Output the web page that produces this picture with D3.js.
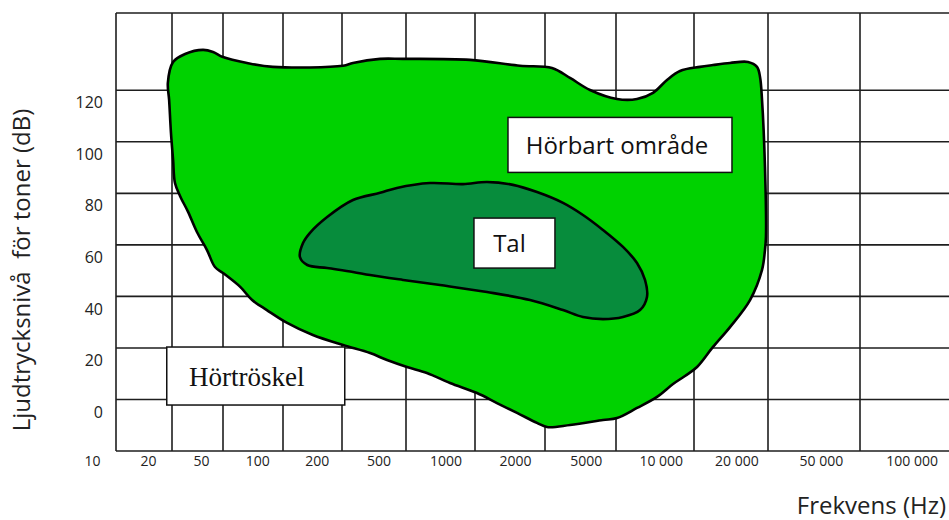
<!DOCTYPE html>
<html>
<head>
<meta charset="utf-8">
<script src="https://cdn.jsdelivr.net/npm/d3@7"></script>
<style>
  body { margin: 0; background: #fff; }
  text { font-family: "Open Sans", sans-serif; fill: #222; }
</style>
</head>
<body>
<div id="chart"></div>
<script>
// axis values
var freqs = [10, 20, 50, 100, 200, 500, 1000, 2000, 5000, 10000, 20000, 50000, 100000];
var freqLabels = ["10", "20", "50", "100", "200", "500", "1000", "2000", "5000", "10 000", "20 000", "50 000", "100 000"];
var levels = [0, 20, 40, 60, 80, 100, 120];
var levelRange = [-20, 150];

// outline of the audible area, [Hz, dB]
var audible = [
  [19.0, 122.9], [20.4, 131.0], [25.3, 134.1], [34.9, 135.7], [41.8, 134.9], [50, 132.9],
  [66, 130.6], [89, 129.1], [203, 129.5], [234, 130.6], [345, 132.2], [479, 132.2],
  [951, 131.8], [1561, 129.5], [2189, 128.7], [2762, 124.8], [3575, 120.1], [5045, 116.6],
  [6026, 116.6], [6946, 119.0], [7867, 124.0], [8830, 127.5], [10580, 129.1], [11950, 129.8],
  [14010, 130.6], [16580, 131.0], [18040, 129.1], [18560, 125.2], [18910, 116.3], [19440, 90.2],
  [19620, 63.1], [19440, 58.0], [18910, 50.3], [16900, 38.6], [14010, 28.1], [11950, 20.4],
  [10290, 12.6], [9230, 9.1], [8300, 6.0], [7200, 1.0], [6026, -3.3], [5045, -7.2],
  [4226, -8.0], [2762, -9.9], [2052, -10.7], [1848, -9.1], [1516, -5.2], [1243, -1.4],
  [1020, 2.5], [778, 6.4], [617, 10.3], [505, 12.6], [381, 15.3], [299, 18.0],
  [203, 21.1], [142, 25.0], [105, 29.7], [83, 34.7], [70, 38.6], [61, 43.7],
  [50, 49.1], [43.3, 51.4], [37.5, 58.0], [31.3, 65.0], [26.7, 72.8], [23.1, 79.0],
  [21.1, 84.0], [20.4, 93.0], [19.75, 103.4], [19.3, 116.3]
];

// outline of the speech area, [Hz, dB]
var speech = [
  [126.5, 60.7], [137, 64.6], [168, 70.8], [234, 77.4], [345, 80.2], [439, 82.1],
  [636, 84.0], [886, 83.6], [1126, 84.4], [1457, 83.3], [1848, 80.5], [2524, 76.3],
  [3266, 71.6], [4226, 65.8], [5320, 59.2], [6026, 53.0], [6470, 46.4], [6585, 39.8],
  [6190, 34.7], [5320, 32.0], [4226, 31.2], [3266, 32.0], [2524, 34.7], [1724, 38.6],
  [1126, 41.7], [704, 44.4], [479, 46.4], [299, 48.3], [234, 49.5], [168, 51.0],
  [133, 52.2], [122, 55.3]
];

// boxed captions: text, centre [Hz, dB]
var notes = [
  {text: "Hörbart område", hz: 5180, db: 98.8, w: 224, h: 55, dx: -3, serif: false},
  {text: "Tal", hz: 1478, db: 60.7, w: 81, h: 50, dx: -5, serif: false},
  {text: "Hörtröskel", hz: 73, db: 9.1, w: 178, h: 58, dx: -9, serif: true}
];

var width = 949, height = 520;
// hand drawn table: column edges are not evenly spaced
var colEdges = [116, 172, 223, 283, 342, 406, 475, 545, 616, 694, 768, 860, 950];

var xLog = d3.scaleLinear().domain(freqs.map(Math.log10)).range(colEdges);
var x = function(f) { return xLog(Math.log10(f)); };
var xIdx = d3.scaleLinear().domain(d3.range(freqs.length)).range(colEdges);
var y = d3.scaleLinear().domain(levelRange).range([451, 13]);

var svg = d3.select("#chart").append("svg")
  .attr("width", width)
  .attr("height", height);

// grid
var grid = svg.append("g").attr("stroke", "#1e1e1e").attr("stroke-width", 1.6);
grid.selectAll("line.v").data(freqs).enter().append("line")
  .attr("class", "v")
  .attr("x1", function(d) { return x(d); })
  .attr("x2", function(d) { return x(d); })
  .attr("y1", y(levelRange[0]))
  .attr("y2", y(levelRange[1]));
grid.selectAll("line.h").data([levelRange[0]].concat(levels, [levelRange[1]])).enter().append("line")
  .attr("class", "h")
  .attr("x1", x(freqs[0]))
  .attr("x2", width)
  .attr("y1", function(d) { return y(d); })
  .attr("y2", function(d) { return y(d); });

// areas
var line = d3.line()
  .x(function(d) { return x(d[0]); })
  .y(function(d) { return y(d[1]); })
  .curve(d3.curveCatmullRomClosed.alpha(0.5));

svg.append("path")
  .datum(audible)
  .attr("d", line)
  .attr("fill", "#00d200")
  .attr("stroke", "#000")
  .attr("stroke-width", 2.6)
  .attr("stroke-linejoin", "round");

svg.append("path")
  .datum(speech)
  .attr("d", line)
  .attr("fill", "#078c3c")
  .attr("stroke", "#000")
  .attr("stroke-width", 2.6)
  .attr("stroke-linejoin", "round");

// captions
notes.forEach(function(n) {
  var cx = x(n.hz), cy = y(n.db);
  svg.append("rect")
    .attr("x", cx - n.w / 2)
    .attr("y", cy - n.h / 2)
    .attr("width", n.w)
    .attr("height", n.h)
    .attr("fill", "#fff")
    .attr("stroke", "#111")
    .attr("stroke-width", 1.5);
  svg.append("text")
    .attr("x", cx + n.dx)
    .attr("y", cy)
    .attr("dy", "0.36em")
    .attr("text-anchor", "middle")
    .style("font-family", n.serif ? "'Liberation Serif', serif" : "'Open Sans', sans-serif")
    .style("font-size", n.serif ? "27px" : "24px")
    .style("fill", "#111")
    .text(n.text);
});

// tick labels
svg.selectAll("text.xl").data(freqLabels).enter().append("text")
  .attr("class", "xl")
  .attr("x", function(d, i) { return xIdx(i - 0.42); })
  .attr("y", 461)
  .attr("dy", "0.35em")
  .attr("text-anchor", "middle")
  .style("font-size", "14px")
  .text(function(d) { return d; });

svg.selectAll("text.yl").data(levels).enter().append("text")
  .attr("class", "yl")
  .attr("x", 103)
  .attr("y", function(d) { return y(d) + 12.5; })
  .attr("dy", "0.35em")
  .attr("text-anchor", "end")
  .style("font-size", "16px")
  .text(function(d) { return d; });

// axis titles
svg.append("text")
  .attr("x", 946)
  .attr("y", 514)
  .attr("text-anchor", "end")
  .style("font-size", "24px")
  .text("Frekvens (Hz)");

svg.append("text")
  .attr("transform", "translate(30,270) rotate(-90)")
  .attr("text-anchor", "middle")
  .style("font-size", "24px")
  .style("white-space", "pre")
  .text("Ljudtrycksnivå  för toner (dB)");
</script>
</body>
</html>
